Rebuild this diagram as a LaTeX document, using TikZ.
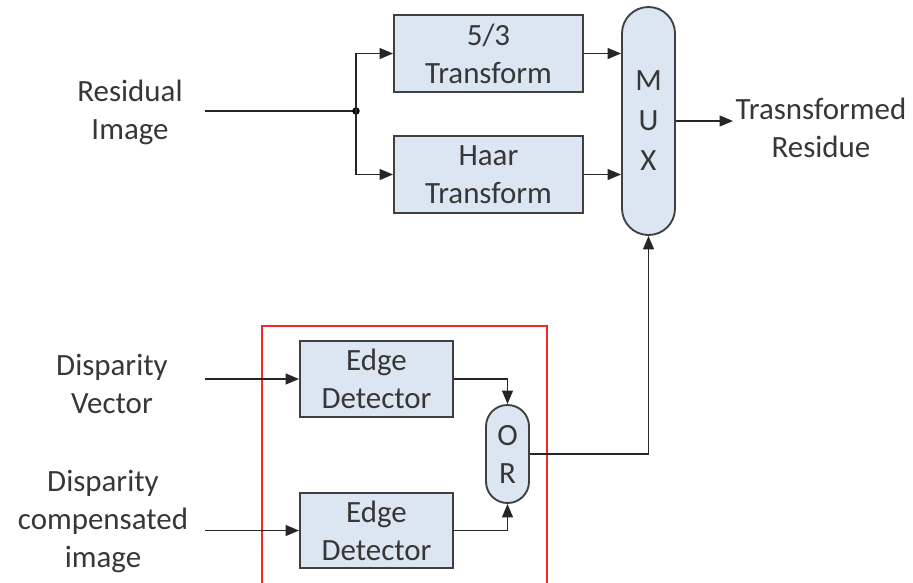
\documentclass[tikz,border=0pt]{standalone}
\usepackage{fontspec}
\setmainfont{Carlito}
\usetikzlibrary{arrows.meta}
\definecolor{boxfill}{RGB}{220,230,242}
\definecolor{boxline}{RGB}{64,64,64}
\definecolor{txt}{RGB}{55,55,55}
\definecolor{frame}{RGB}{240,40,40}
\begin{document}
\begin{tikzpicture}[x=0.75pt,y=-0.75pt,
  every node/.style={font=\fontsize{23.2}{28.5}\selectfont, text=txt},
  blockbox/.style={draw=boxline, fill=boxfill, line width=1.4pt, align=center, inner sep=0pt},
  capsule/.style={blockbox, rounded corners=#1},
  label/.style={align=center, inner sep=0pt},
  wire/.style={line width=1.4pt, draw=black!85},
  arr/.style={wire, -{Triangle[length=10pt,width=8pt]}}
]
\useasboundingbox (0,0) rectangle (913,582);

% enclosing frame around the edge detection stage
\draw[frame, line width=1pt] (262,326) rectangle (547,600);

% transform stage
\node[blockbox, minimum width=141.75pt, minimum height=57.75pt] (t53) at (488.5,53.5) {5/3\\Transform};
\node[blockbox, minimum width=141.75pt, minimum height=57.75pt] (haar) at (488.5,174.5) {Haar\\Transform};
\node[capsule=19.8pt, minimum width=39.75pt, minimum height=171pt,
      font=\fontsize{23.2}{30}\selectfont] (mux) at (648.5,121) {M\\U\\X};

% edge detection stage
\node[blockbox, minimum width=114.75pt, minimum height=57pt] (ed1) at (376.5,379) {Edge\\Detector};
\node[blockbox, minimum width=114.75pt, minimum height=56.25pt] (ed2) at (376.5,530.5) {Edge\\Detector};
\node[capsule=16pt, minimum width=32.25pt, minimum height=73.5pt] (orn) at (507.5,454) {O\\R};

% inputs and output labels
\node[label] (resid) at (130,112) {Residual\\Image};
\node[label] (dvec) at (112,384) {Disparity\\Vector};
\node[label] (dcomp) at (103,522) {Disparity\\compensated\\image};
\node[label] (tres) at (821,128) {Trasnsformed\\Residue};

\coordinate (resin) at (205,111);
\coordinate (jn) at (356,111);
\coordinate (dvin) at (205,379);
\coordinate (dcin) at (205,530.5);
\coordinate (muxout) at (733,121);

% wiring
\draw[wire] (resin) -- (jn);
\fill[black] (jn) circle (2.8pt);
\draw[arr] (jn) |- (t53.west);
\draw[arr] (jn) |- (haar.west);
\draw[arr] (t53.east) -- (t53.east -| mux.west);
\draw[arr] (haar.east) -- (haar.east -| mux.west);
\draw[arr] (mux.east) -- (muxout);

\draw[arr] (dvin) -- (ed1.west);
\draw[arr] (dcin) -- (ed2.west);
\draw[arr] (ed1.east) -| (orn.north);
\draw[arr] (ed2.east) -| (orn.south);
\draw[arr] (orn.east) -| (mux.south);
\end{tikzpicture}
\end{document}
